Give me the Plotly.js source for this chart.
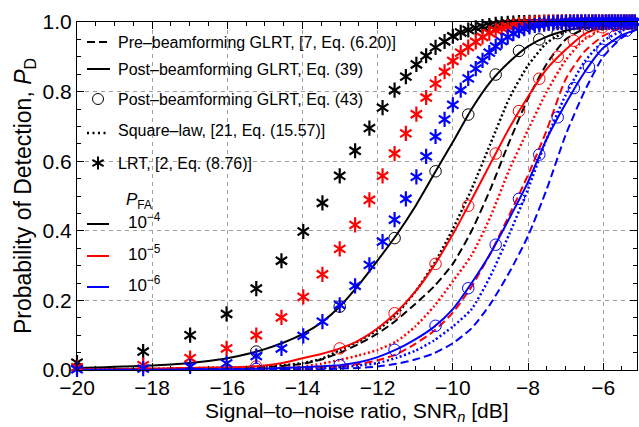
<!DOCTYPE html>
<html>
<head>
<meta charset="utf-8">
<script src="https://cdn.plot.ly/plotly-3.0.1.min.js"></script>
<style>html,body{margin:0;padding:0;background:#fff;}#chart{width:639px;height:427px;}</style>
</head>
<body>
<div id="chart"></div>
<script>
// ---------- DATA ----------
// SNR grid (dB) for the continuous curves
const lineSNR = [-20,-19.5,-19,-18.5,-18,-17.5,-17,-16.5,-16,-15.5,-15,-14.5,-14,-13.5,-13,-12.5,-12,-11.5,-11,-10.5,-10,-9.5,-9,-8.5,-8,-7.5,-7,-6.5,-6,-5.5,-5];

// Post-beamforming GLRT, Eq. (39) (solid)
const post39_1e4 = [0.006,0.007,0.009,0.011,0.013,0.016,0.020,0.026,0.034,0.045,0.060,0.079,0.103,0.136,0.183,0.245,0.315,0.388,0.470,0.563,0.655,0.750,0.828,0.885,0.930,0.958,0.975,0.986,0.993,0.997,0.999];
const post39_1e5 = [0.002,0.002,0.003,0.003,0.004,0.005,0.006,0.007,0.008,0.009,0.013,0.021,0.034,0.046,0.062,0.085,0.120,0.166,0.225,0.300,0.390,0.490,0.593,0.695,0.785,0.865,0.920,0.965,0.985,0.994,0.998];
const post39_1e6 = [0.001,0.001,0.001,0.001,0.001,0.001,0.002,0.002,0.002,0.003,0.004,0.006,0.008,0.011,0.014,0.022,0.037,0.059,0.088,0.124,0.175,0.250,0.335,0.435,0.540,0.665,0.765,0.855,0.925,0.962,0.982];

// Pre-beamforming GLRT, [7, Eq. (6.20)] (dashed)
const pre_1e4 = [0.001,0.001,0.001,0.002,0.002,0.003,0.003,0.004,0.005,0.007,0.009,0.012,0.018,0.030,0.050,0.075,0.105,0.143,0.190,0.240,0.305,0.400,0.520,0.655,0.780,0.880,0.950,0.980,0.993,0.998,1.000];
const pre_1e5 = [0,0,0,0,0,0.001,0.001,0.001,0.001,0.002,0.002,0.003,0.004,0.007,0.010,0.017,0.028,0.045,0.075,0.112,0.165,0.240,0.335,0.445,0.560,0.690,0.835,0.915,0.960,0.984,0.995];
const pre_1e6 = [0,0,0,0,0,0,0,0,0,0,0.001,0.001,0.001,0.002,0.004,0.006,0.010,0.018,0.030,0.048,0.077,0.120,0.190,0.280,0.385,0.520,0.675,0.800,0.900,0.955,0.985];

// Square-law, [21, Eq. (15.57)] (dotted)
const sq_1e4 = [0.002,0.002,0.002,0.003,0.003,0.004,0.005,0.006,0.007,0.008,0.010,0.014,0.020,0.032,0.057,0.083,0.115,0.160,0.225,0.305,0.405,0.520,0.650,0.780,0.875,0.940,0.972,0.988,0.996,0.999,1.000];
const sq_1e5 = [0,0,0,0,0.001,0.001,0.001,0.002,0.002,0.003,0.004,0.006,0.010,0.018,0.029,0.042,0.058,0.082,0.125,0.183,0.255,0.330,0.440,0.575,0.690,0.800,0.890,0.950,0.980,0.993,0.998];
const sq_1e6 = [0,0,0,0,0,0,0,0.001,0.001,0.001,0.001,0.002,0.003,0.005,0.008,0.013,0.020,0.035,0.055,0.085,0.125,0.175,0.270,0.390,0.520,0.665,0.790,0.885,0.945,0.975,0.990];

// Post-beamforming GLRT, Eq. (43) (circles)
const circleSNR = [-20.00,-15.23,-13.01,-11.55,-10.46,-9.59,-8.86,-8.24,-7.70,-7.21,-6.78,-6.38,-6.02,-5.69,-5.38,-5.09];
const post43_1e4 = [0.006,0.053,0.182,0.379,0.571,0.734,0.849,0.917,0.950,0.968,0.982,0.990,0.994,0.997,0.998,0.999];
const post43_1e5 = [0.002,0.010,0.062,0.163,0.305,0.472,0.622,0.744,0.837,0.900,0.946,0.973,0.985,0.993,0.997,0.999];
const post43_1e6 = [0.001,0.003,0.014,0.058,0.127,0.235,0.360,0.492,0.619,0.726,0.810,0.871,0.920,0.960,0.975,0.985];

// LRT, [2, Eq. (8.76)] (stars)
const starSNR = [-20.00,-18.24,-16.99,-16.02,-15.23,-14.56,-13.98,-13.47,-13.01,-12.60,-12.22,-11.87,-11.55,-11.25,-10.97,-10.71,-10.46,-10.22,-10.00,-9.79,-9.59,-9.39,-9.21,-9.03,-8.86,-8.70,-8.54,-8.39,-8.24,-8.10,-7.96,-7.82,-7.70,-7.57,-7.45,-7.33,-7.21,-7.10,-6.99,-6.88,-6.78,-6.68,-6.58,-6.48,-6.38,-6.29,-6.20,-6.11,-6.02,-5.93,-5.85,-5.77,-5.69,-5.61,-5.53,-5.45,-5.38,-5.30,-5.23,-5.16,-5.09];
const lrt_1e4 = [0.021,0.053,0.100,0.161,0.234,0.314,0.398,0.480,0.558,0.630,0.695,0.754,0.804,0.843,0.878,0.903,0.927,0.944,0.959,0.970,0.977,0.983,0.987,0.990,0.993,0.995,0.996,0.997,0.998,0.998,0.999,0.999,0.999,1,1,1,1,1,1,1,1,1,1,1,1,1,1,1,1,1,1,1,1,1,1,1,1,1,1,1,1];
const lrt_1e5 = [0.008,0.014,0.034,0.062,0.100,0.151,0.210,0.275,0.348,0.417,0.489,0.558,0.622,0.680,0.735,0.783,0.823,0.857,0.888,0.912,0.928,0.943,0.957,0.968,0.976,0.982,0.987,0.990,0.993,0.995,0.996,0.997,0.998,0.998,0.999,0.999,0.999,1,1,1,1,1,1,1,1,1,1,1,1,1,1,1,1,1,1,1,1,1,1,1,1];
const lrt_1e6 = [0.002,0.004,0.010,0.019,0.040,0.062,0.098,0.139,0.187,0.242,0.302,0.369,0.432,0.492,0.555,0.614,0.671,0.720,0.762,0.804,0.838,0.866,0.890,0.912,0.930,0.945,0.957,0.967,0.975,0.981,0.986,0.990,0.992,0.994,0.996,0.997,0.998,0.998,0.999,0.999,0.999,1,1,1,1,1,1,1,1,1,1,1,1,1,1,1,1,1,1,1,1];

// Legend / axis text
const methodLabels = ['Pre\u2013beamforming GLRT, [7, Eq. (6.20)]','Post\u2013beamforming GLRT, Eq. (39)','Post\u2013beamforming GLRT, Eq. (43)','Square\u2013law, [21, Eq. (15.57)]','LRT, [2, Eq. (8.76)]'];
const pfaLabels = ['10<sup>\u22124</sup>','10<sup>\u22125</sup>','10<sup>\u22126</sup>'];
const pfaTitle = '<i>P</i><sub>FA</sub>';
const xTitle = 'Signal\u2013to\u2013noise ratio, SNR<sub><i>n</i></sub> [dB]';
const yTitle = 'Probability of Detection, <i>P</i><sub>D</sub>';
const colors = ['#000000','#ff0000','#0000ff'];

// ---------- TRACES ----------
const DASH = '8px,4px', DOT = '2px,2.5px';
const LW = 2;
const traces = [];
const groups = [
  {post39: post39_1e4, pre: pre_1e4, sq: sq_1e4, post43: post43_1e4, lrt: lrt_1e4},
  {post39: post39_1e5, pre: pre_1e5, sq: sq_1e5, post43: post43_1e5, lrt: lrt_1e5},
  {post39: post39_1e6, pre: pre_1e6, sq: sq_1e6, post43: post43_1e6, lrt: lrt_1e6}
];
groups.forEach((g, i) => {
  const c = colors[i];
  traces.push({x: lineSNR, y: g.pre, mode: 'lines', line: {color: c, width: LW, dash: DASH, shape: 'spline', smoothing: 0.6}, showlegend: false, hoverinfo: 'skip'});
  traces.push({x: lineSNR, y: g.sq, mode: 'lines', line: {color: c, width: 2.5, dash: DOT, shape: 'spline', smoothing: 0.6}, showlegend: false, hoverinfo: 'skip'});
  traces.push({x: lineSNR, y: g.post39, mode: 'lines', line: {color: c, width: LW, shape: 'spline', smoothing: 0.6}, showlegend: false, hoverinfo: 'skip'});
});
groups.forEach((g, i) => {
  const c = colors[i];
  traces.push({x: circleSNR, y: g.post43, mode: 'markers', marker: {symbol: 'circle-open', size: 11.5, color: c, line: {color: c, width: 1}}, showlegend: false, hoverinfo: 'skip'});
});
groups.forEach((g, i) => {
  const c = colors[i];
  ['y-up-open','y-down-open'].forEach(sym => {
    traces.push({x: starSNR, y: g.lrt, mode: 'markers', cliponaxis: false, marker: {symbol: sym, size: 9.5, color: c, line: {color: c, width: 2.2}}, showlegend: false, hoverinfo: 'skip'});
  });
});

// ---------- LAYOUT ----------
const W = 639, H = 427, L = 77, R = 2, T = 22, B = 57;
const pw = W - L - R, ph = H - T - B;
const px = v => (v - L) / pw;          // pixel -> paper x
const py = v => (H - B - v) / ph;      // pixel -> paper y
const FONT = 'Liberation Sans, Arial, Helvetica, sans-serif';

const shapes = [], annotations = [];
// method legend
const rowY = [42, 69, 99, 130, 163];
const glyphX0 = 87, glyphX1 = 110, glyphC = 98, textX = 116;
const lineGlyph = (y, dash, color) => ({type: 'line', xref: 'paper', yref: 'paper', x0: px(glyphX0), x1: px(glyphX1), y0: py(y), y1: py(y), line: {color: color, width: LW, dash: dash}});
shapes.push(lineGlyph(rowY[0], DASH, '#000'));
shapes.push(lineGlyph(rowY[1], 'solid', '#000'));
shapes.push({type: 'circle', xref: 'paper', yref: 'paper', xsizemode: 'pixel', ysizemode: 'pixel', xanchor: px(glyphC), yanchor: py(rowY[2]), x0: -5.5, x1: 5.5, y0: -5.5, y1: 5.5, line: {color: '#000', width: 1}});
shapes.push({type: 'line', xref: 'paper', yref: 'paper', x0: px(glyphX0), x1: px(glyphX0 + 19), y0: py(rowY[3] + 3), y1: py(rowY[3] + 3), line: {color: '#000', width: 2.5, dash: '2px,3.5px'}});
[[0, 6.5], [5.6, 3.2], [5.6, -3.2]].forEach(d => {
  shapes.push({type: 'line', xref: 'paper', yref: 'paper', xsizemode: 'pixel', ysizemode: 'pixel', xanchor: px(glyphC), yanchor: py(rowY[4]), x0: -d[0], x1: d[0], y0: -d[1], y1: d[1], line: {color: '#000', width: 2}});
});
methodLabels.forEach((t, i) => {
  annotations.push({xref: 'paper', yref: 'paper', x: px(textX), y: py(rowY[i]), xanchor: 'left', yanchor: 'middle', text: t, showarrow: false, font: {family: FONT, size: 16, color: '#000'}});
});
// PFA legend
annotations.push({xref: 'paper', yref: 'paper', x: px(124), y: py(201), xanchor: 'left', yanchor: 'middle', text: pfaTitle, showarrow: false, font: {family: FONT, size: 17, color: '#000'}});
const pfaY = [224, 256, 287];
pfaLabels.forEach((t, i) => {
  shapes.push({type: 'line', xref: 'paper', yref: 'paper', x0: px(87), x1: px(109), y0: py(pfaY[i]), y1: py(pfaY[i]), line: {color: colors[i], width: LW}});
  annotations.push({xref: 'paper', yref: 'paper', x: px(126), y: py(pfaY[i] - 3), xanchor: 'left', yanchor: 'middle', text: t, showarrow: false, font: {family: FONT, size: 17, color: '#000'}});
});
// x-axis title (placed below the tick labels, kept inside the page)
annotations.push({xref: 'paper', yref: 'paper', x: 0.5, y: py(427), xanchor: 'center', yanchor: 'bottom', text: xTitle, showarrow: false, font: {family: FONT, size: 21, color: '#000'}});

const axisCommon = {
  showline: true, linecolor: '#000', linewidth: 1, mirror: 'allticks',
  ticks: 'inside', ticklen: 7, tickwidth: 1, tickcolor: '#000',
  showgrid: true, gridcolor: '#a0a0a0', gridwidth: 1, griddash: '4px,4px',
  zeroline: false, tickfont: {family: FONT, size: 21, color: '#000'}
};
const layout = {
  width: W, height: H,
  margin: {l: L, r: R, t: T, b: B, pad: 0},
  paper_bgcolor: '#fff', plot_bgcolor: '#fff',
  showlegend: false,
  font: {family: FONT, color: '#000'},
  xaxis: Object.assign({}, axisCommon, {
    range: [-20, -5.1], tick0: -20, dtick: 2, ticklabelstandoff: -1,
    minor: {dtick: 0.5, tick0: -20, ticks: 'inside', ticklen: 4, tickcolor: '#000', showgrid: false}
  }),
  yaxis: Object.assign({}, axisCommon, {
    range: [0, 1], tick0: 0, dtick: 0.2, tickformat: '.1f',
    minor: {dtick: 0.05, tick0: 0, ticks: 'inside', ticklen: 4, tickcolor: '#000', showgrid: false},
    title: {text: yTitle, font: {family: FONT, size: 23, color: '#000'}, standoff: 4}
  }),
  shapes: shapes,
  annotations: annotations
};

Plotly.newPlot('chart', traces, layout, {displayModeBar: false, staticPlot: true});
</script>
</body>
</html>
